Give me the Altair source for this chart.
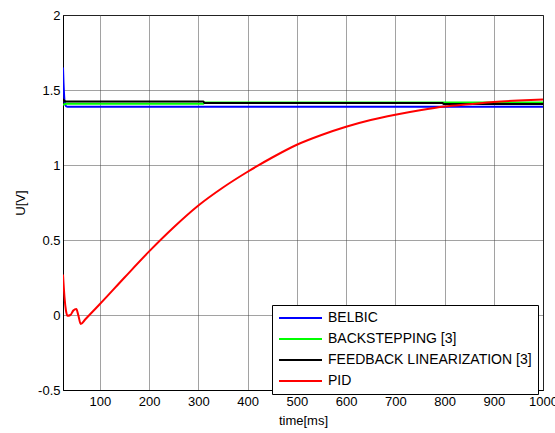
import altair as alt
import pandas as pd

series_names = ["BELBIC", "BACKSTEPPING [3]", "FEEDBACK LINEARIZATION [3]", "PID"]
series_colors = ["#0000ff", "#00ff00", "#000000", "#ff0000"]

belbic_t = [25, 26, 27, 28, 30, 32, 34, 1000]
belbic_u = [1.65, 1.55, 1.48, 1.43, 1.40, 1.39, 1.388, 1.388]

back_t = [25, 28, 32, 310, 312, 1000]
back_u = [1.40, 1.405, 1.408, 1.408, 1.416, 1.416]

fl_t = [25, 27, 29, 32, 310, 312, 796, 798, 1000]
fl_u = [1.44, 1.43, 1.425, 1.424, 1.424, 1.414, 1.414, 1.406, 1.406]

pid_t = [25, 28, 31, 34, 40, 46, 52, 56, 61, 70, 80, 100, 150, 200, 250, 300,
         350, 400, 450, 500, 550, 600, 650, 700, 750, 800, 850, 900, 950, 1000]
pid_u = [0.27, 0.12, 0.03, -0.005, 0.0, 0.03, 0.04, 0.0, -0.06, -0.03, 0.005,
         0.073, 0.25, 0.424, 0.585, 0.73, 0.85, 0.955, 1.05, 1.135, 1.2, 1.255,
         1.3, 1.335, 1.365, 1.39, 1.405, 1.42, 1.43, 1.437]

x_ticks = [100, 200, 300, 400, 500, 600, 700, 800, 900, 1000]
y_ticks = [-0.5, 0, 0.5, 1, 1.5, 2]

rows = []
for name, ts, us in zip(series_names, [belbic_t, back_t, fl_t, pid_t],
                        [belbic_u, back_u, fl_u, pid_u]):
    for i, (t, u) in enumerate(zip(ts, us)):
        rows.append({"series": name, "t": t, "u": u, "i": i})
df = pd.DataFrame(rows)

FONT = "Liberation Sans"

chart = alt.Chart(df).mark_line(strokeWidth=2, clip=True, interpolate="monotone").encode(
    x=alt.X("t:Q",
            scale=alt.Scale(domain=[25, 1000], nice=False, zero=False),
            axis=alt.Axis(values=x_ticks, title="time[ms]", ticks=False,
                          labelPadding=5, labelFontSize=13, labelColor="#000",
                          labelExpr="datum.value + ''",
                          titleFontSize=13, titleFontWeight="normal",
                          titleColor="#000", titleY=30, titleBaseline="middle",
                          labelFlush=False, labelOverlap=False,
                          domainColor="#000", gridColor="#444",
                          gridDash=[1, 1], grid=True)),
    y=alt.Y("u:Q",
            scale=alt.Scale(domain=[-0.5, 2], nice=False, zero=False),
            axis=alt.Axis(values=y_ticks, title="U[V]", ticks=False,
                          labelPadding=3, labelFontSize=13, labelColor="#000",
                          labelExpr="datum.value + ''",
                          titleFontSize=13, titleFontWeight="normal",
                          titleColor="#000", titleX=-43, titleBaseline="middle",
                          labelFlush=False, labelOverlap=False,
                          domainColor="#000", gridColor="#444",
                          gridDash=[1, 1], grid=True)),
    color=alt.Color("series:N",
                    scale=alt.Scale(domain=series_names, range=series_colors),
                    sort=series_names,
                    legend=alt.Legend(title=None, orient="none",
                                      legendX=209, legendY=290,
                                      symbolType="M-4.3,0H4.3", symbolSize=100,
                                      symbolStrokeWidth=2, symbolOffset=15.5,
                                      labelOffset=20.5, labelFontSize=14,
                                      labelColor="#000", labelFont=FONT,
                                      strokeColor="#000", fillColor="#fff",
                                      padding=6, rowPadding=7,
                                      labelLimit=400, offset=0)),
    detail="series:N",
    order="i:Q",
).properties(
    width=480, height=375,
    autosize=alt.AutoSizeParams(type="none"),
    padding={"left": 63, "top": 15, "right": 12, "bottom": 43},
).configure(
    font=FONT,
).configure_view(
    stroke="#000", strokeWidth=1,
)

chart.save("out.html", embed_options={"renderer": "svg", "actions": False})
